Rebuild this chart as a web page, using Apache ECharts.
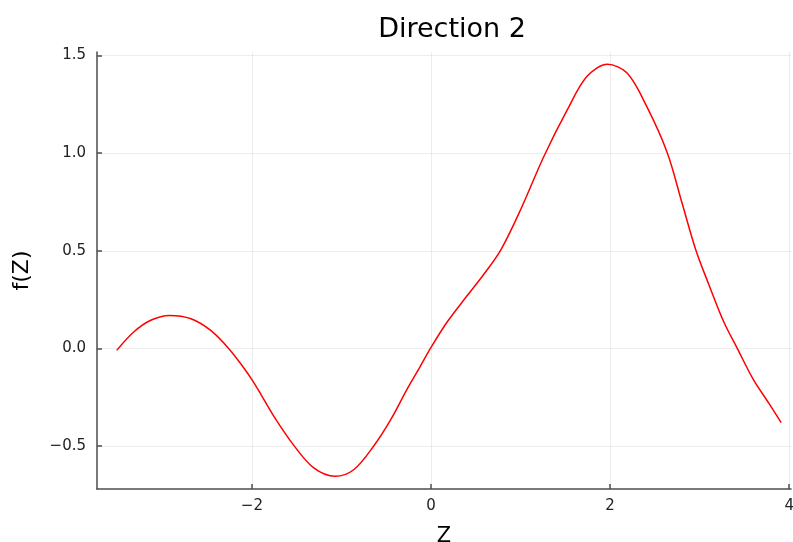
<!DOCTYPE html>
<html>
<head>
<meta charset="utf-8">
<script src="https://cdn.jsdelivr.net/npm/echarts@6/dist/echarts.min.js"></script>
<style>
  html, body { margin: 0; padding: 0; background: #fff; }
  #chart { width: 793px; height: 542px; }
</style>
</head>
<body>
<div id="chart"></div>
<script>
// Sampled curve f(Z) along direction 2
const zValues = [
  -3.51, -3.32, -3.13, -2.92, -2.68, -2.46, -2.26, -2.09, -2.00, -1.90,
  -1.755, -1.53, -1.31, -1.07, -0.86, -0.64, -0.45, -0.27, -0.12, 0.00,
  0.18, 0.40, 0.59, 0.78, 1.00, 1.26, 1.52, 1.74, 1.97, 2.19,
  2.41, 2.64, 2.80, 2.96, 3.10, 3.27, 3.42, 3.60, 3.77, 3.91
];
const fValues = [
  -0.010, 0.084, 0.144, 0.169, 0.152, 0.092, 0.000, -0.100, -0.160, -0.235,
  -0.348, -0.498, -0.612, -0.655, -0.620, -0.500, -0.365, -0.211, -0.092, 0.005,
  0.135, 0.268, 0.380, 0.505, 0.710, 0.983, 1.220, 1.392, 1.455, 1.410,
  1.238, 1.000, 0.750, 0.500, 0.330, 0.135, 0.000, -0.160, -0.279, -0.380
];
const xTicks = [-2, 0, 2, 4];
const yTicks = [-0.5, 0.0, 0.5, 1.0, 1.5];
const titleText = 'Direction 2';
const xName = 'Z';
const yName = 'f(Z)';

const FONT = 'DejaVu Sans';
const axisColor = '#4d4d4d';
const gridColor = 'rgba(0,0,0,0.07)';

function fmt(v, digits) {
  const s = Math.abs(v).toFixed(digits);
  return (v < 0 ? '\u2212' : '') + s;
}

const chart = echarts.init(document.getElementById('chart'), null, { renderer: 'canvas' });
chart.setOption({
  backgroundColor: '#fff',
  animation: false,
  title: {
    text: titleText,
    left: 447,
    textAlign: 'center',
    top: 11,
    textStyle: { fontFamily: FONT, fontSize: 27, fontWeight: 'normal', color: '#000' }
  },
  grid: { left: 97, right: 2, top: 52, bottom: 53, containLabel: false, outerBoundsMode: 'none' },
  xAxis: {
    type: 'value',
    min: -3.73,
    max: 4.02,
    name: xName,
    nameLocation: 'middle',
    nameGap: 37,
    nameTextStyle: { fontFamily: FONT, fontSize: 21, color: '#000' },
    axisLine: { onZero: false, lineStyle: { color: axisColor, width: 1.5 } },
    axisTick: { inside: true, length: 5, customValues: xTicks, lineStyle: { color: axisColor, width: 1.5 } },
    axisLabel: { customValues: xTicks, margin: 10, fontFamily: FONT, fontSize: 15, color: '#222',
                 formatter: v => fmt(v, 0) },
    splitLine: { show: true, lineStyle: { color: gridColor, width: 1 } }
  },
  yAxis: {
    type: 'value',
    min: -0.72,
    max: 1.518,
    name: yName,
    nameLocation: 'middle',
    nameRotate: 90,
    nameGap: 64,
    nameTextStyle: { fontFamily: FONT, fontSize: 22, color: '#000' },
    axisLine: { show: true, onZero: false, lineStyle: { color: axisColor, width: 1.5 } },
    axisTick: { show: true, inside: true, length: 5, customValues: yTicks, lineStyle: { color: axisColor, width: 1.5 } },
    axisLabel: { customValues: yTicks, margin: 11, fontFamily: FONT, fontSize: 15, color: '#222',
                 formatter: v => fmt(v, 1) },
    splitLine: { show: true, lineStyle: { color: gridColor, width: 1 } }
  },
  series: [{
    type: 'line',
    data: zValues.map((z, i) => [z, fValues[i]]),
    smooth: 0.33,
    showSymbol: false,
    lineStyle: { color: '#ff0000', width: 1.5 },
    clip: true
  }]
});
</script>
</body>
</html>
